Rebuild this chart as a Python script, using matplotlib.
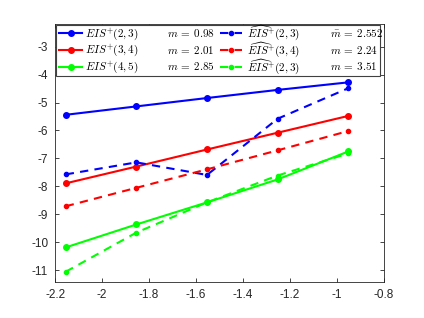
import matplotlib
matplotlib.use('Agg')
from matplotlib import pyplot as plt
from matplotlib.lines import Line2D
from matplotlib.patches import Rectangle
from matplotlib.ticker import FormatStrFormatter
import numpy as np

plt.rcParams['mathtext.fontset'] = 'cm'
plt.rcParams['font.family'] = ['Liberation Sans', 'DejaVu Sans']
plt.rcParams['axes.unicode_minus'] = False

# log10 of step sizes
x = [-2.155, -1.854, -1.553, -1.252, -0.951]

eis_23 = [-5.44, -5.14, -4.84, -4.55, -4.28]
eis_34 = [-7.89, -7.29, -6.68, -6.08, -5.48]
eis_45 = [-10.18, -9.36, -8.57, -7.75, -6.75]
hat_23 = [-7.57, -7.14, -7.59, -5.58, -4.49]
hat_34 = [-8.71, -8.05, -7.39, -6.71, -6.02]
hat_45 = [-11.05, -9.65, -8.57, -7.61, -6.82]

solid_labels = [r'$EIS^{+}(2,3)$', r'$EIS^{+}(3,4)$', r'$EIS^{+}(4,5)$']
hat_labels = [r'$\widehat{EIS}^{+}(2,3)$', r'$\widehat{EIS}^{+}(3,4)$', r'$\widehat{EIS}^{+}(2,3)$']
slopes_solid = [r'$m\:=\:0.98$', r'$m\:=\:2.01$', r'$m\:=\:2.85$']
slopes_hat = [r'$\bar{m}\:=\:2.552$', r'$m\:=\:2.24$', r'$m\:=\:3.51$']
colors = ['#0000ff', '#ff0000', '#00ff00']

W, H = 424, 318
fig = plt.figure(figsize=(W / 100, H / 100), dpi=100)
ax = fig.add_axes([0.13, 0.112, 0.775, 0.812])

solid = [eis_23, eis_34, eis_45]
dashed = [hat_23, hat_34, hat_45]
for y, c in zip(solid, colors):
    ax.plot(x, y, '-', color=c, lw=1.5, marker='o', markersize=4)
for y, c in zip(dashed, colors):
    ax.plot(x, y, '--', color=c, lw=1.5, marker='o', markersize=3, dashes=(4, 3))

ax.set_xlim(-2.2, -0.8)
ax.set_ylim(-11.43, -2.2)
ax.set_xticks(np.arange(-2.2, -0.79, 0.2))
ax.set_yticks(range(-11, -2))
ax.xaxis.set_major_formatter(FormatStrFormatter('%g'))
ax.yaxis.set_major_formatter(FormatStrFormatter('%g'))
ax.tick_params(direction='in', top=True, right=True, length=3, width=0.6,
               labelsize=8.5, colors='#262626', labelcolor='#262626', pad=5)
for s in ax.spines.values():
    s.set_color('#262626')
    s.set_linewidth(0.6)

# legend box laid out in figure pixels (from top-left), mapped to axes fraction
pos = ax.get_position()
def to_ax(px, py):
    fx = px / W
    fy = 1 - py / H
    return (fx - pos.x0) / pos.width, (fy - pos.y0) / pos.height

x0, y0 = to_ax(56, 76)
x1, y1 = to_ax(380, 24.5)
ax.add_patch(Rectangle((x0, y0), x1 - x0, y1 - y0, transform=ax.transAxes,
                       facecolor='white', edgecolor='#404040', lw=0.8,
                       zorder=5, clip_on=False))

rows = [33.3, 50.0, 66.7]
for i in range(3):
    yr = rows[i]
    # solid sample
    a, b = to_ax(59, yr)
    e, _ = to_ax(82, yr)
    ax.add_line(Line2D([a, (a + e) / 2, e], [b, b, b], transform=ax.transAxes,
                       color=colors[i], lw=1.5, marker='o', markersize=4,
                       markevery=[1], zorder=6, clip_on=False))
    # dashed sample
    a, b = to_ax(220, yr)
    e, _ = to_ax(242, yr)
    ax.add_line(Line2D([a, (a + e) / 2, e], [b, b, b], transform=ax.transAxes,
                       color=colors[i], lw=1.5, ls='--', dashes=(4, 3),
                       marker='o', markersize=3, markevery=[1], zorder=6,
                       clip_on=False))
    for px, txt in [(85, solid_labels[i]), (167, slopes_solid[i]),
                    (247, hat_labels[i]), (330, slopes_hat[i])]:
        tx, ty = to_ax(px, yr + 3.8)
        ax.text(tx, ty, txt, transform=ax.transAxes, fontsize=8, ha='left',
                va='baseline', zorder=7, color='black')

plt.savefig('out.png', dpi=100)
